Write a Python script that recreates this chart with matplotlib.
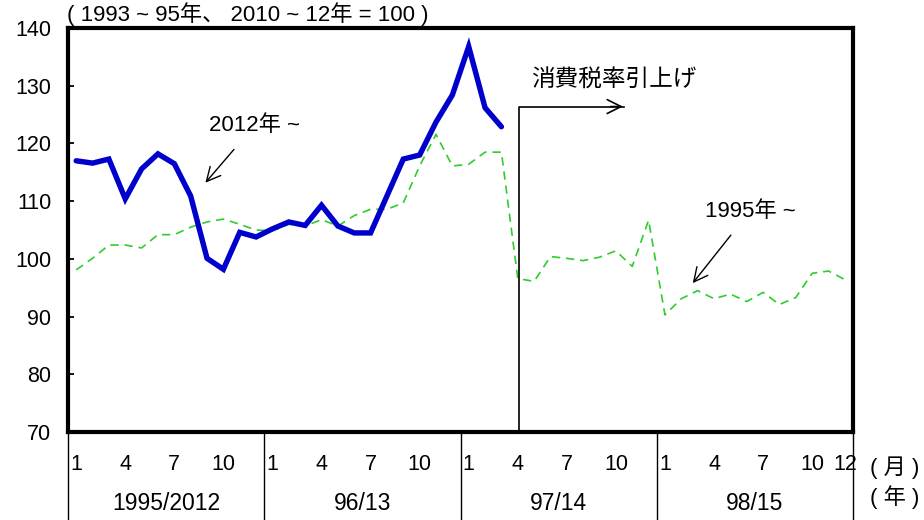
import matplotlib
matplotlib.use("Agg")
import matplotlib.pyplot as plt
import numpy as np

plt.rcParams['font.family'] = ['Liberation Sans', 'Noto Sans CJK JP', 'DejaVu Sans']

# monthly index, Jan 1995/2012 .. Dec 1998/2015
months = np.arange(1, 49)

# 2012~ series (Jan 2012 - Mar 2014)
series_2012 = [117.0, 116.6, 117.3, 110.4, 115.6, 118.2, 116.5, 110.9, 100.1, 98.2,
               104.6, 103.8, 105.2, 106.4, 105.8, 109.3, 105.7, 104.5, 104.5, 110.9,
               117.3, 118.0, 123.7, 128.4, 136.8, 126.2, 122.9]

# 1995~ series (Jan 1995 - Dec 1998)
series_1995 = [98.1, 100.1, 102.4, 102.4, 101.9, 104.2, 104.2, 105.5, 106.4, 106.9,
               106.0, 105.0, 104.9, 106.0, 105.7, 106.8, 105.7, 107.5, 108.6, 108.6,
               109.7, 116.1, 121.6, 116.1, 116.4, 118.5, 118.5, 96.6, 96.1, 100.4,
               100.1, 99.7, 100.3, 101.4, 98.7, 106.7, 90.3, 93.1, 94.5, 93.1,
               93.9, 92.6, 94.2, 92.1, 93.3, 97.5, 97.9, 96.4]

month_labels = ['1', '4', '7', '10']
year_labels = ['1995/2012', '96/13', '97/14', '98/15']
y_ticks = [70, 80, 90, 100, 110, 120, 130, 140]

fig = plt.figure(figsize=(9.24, 5.2), dpi=100)
ax = fig.add_axes([0.0736, 0.1692, 0.8496, 0.7768])

x = months - 0.5
ax.plot(x, series_1995, color='#2ECC2E', lw=1.2, dashes=(5, 3.5))
ax.plot(x[:len(series_2012)], series_2012, color='#0000CC', lw=3.9,
        solid_joinstyle='miter', solid_capstyle='round')

ax.set_xlim(0, 48)
ax.set_ylim(70, 140)
ax.set_yticks(y_ticks)
ax.tick_params(axis='y', direction='in', length=4, width=1.3, labelsize=15.5, pad=12)

# month ticks under each year block
tick_pos, tick_lab = [], []
for yr in range(4):
    for lab in month_labels:
        tick_pos.append(yr * 12 + int(lab) - 0.5)
        tick_lab.append(lab)
tick_pos.append(47.5)
tick_lab.append('12')
ax.set_xticks(tick_pos, tick_lab)
ax.tick_params(axis='x', length=0, labelsize=15.5, pad=16)
for lbl in ax.get_xticklabels():
    if lbl.get_text() == '10' and lbl.get_position()[0] > 40:
        lbl.set_x(lbl.get_position()[0] - 0.3)

for sp in ax.spines.values():
    sp.set_linewidth(3)
    sp.set_color('black')

trans = ax.get_xaxis_transform()
for b in range(5):
    ax.plot([b * 12, b * 12], [0, -0.22], transform=trans, color='black',
            lw=1, clip_on=False)
for i, lab in enumerate(year_labels):
    ax.text(i * 12 + 6, -0.176, lab, transform=trans, ha='center', va='center',
            fontsize=16.5)

fig.text(0.968, 0.100, '( 月 )', ha='center', va='center', fontsize=16)
fig.text(0.968, 0.044, '( 年 )', ha='center', va='center', fontsize=16)

fig.text(0.073, 0.972, '( 1993 ~ 95年、 2010 ~ 12年 = 100 )', ha='left',
         va='center', fontsize=16)

# consumption tax hike marker (April 1997/2014)
ax.plot([27.55, 27.55, 34.0], [70, 126.4, 126.4], color='black', lw=1.2)
ax.annotate('', xy=(34.1, 126.4), xytext=(33.0, 126.4),
            arrowprops=dict(arrowstyle='->', color='black', lw=1.2,
                            mutation_scale=25))
ax.text(28.3, 130.8, '消費税率引上げ', ha='left', va='center', fontsize=17)

ax.annotate('2012年 ~', xy=(8.4, 113.2), xytext=(11.4, 123.1),
            ha='center', va='center', fontsize=16,
            arrowprops=dict(arrowstyle='->', color='black', lw=1,
                            mutation_scale=25, shrinkA=10, shrinkB=0))
ax.annotate('1995年 ~', xy=(38.2, 95.8), xytext=(41.7, 108.3),
            ha='center', va='center', fontsize=16,
            arrowprops=dict(arrowstyle='->', color='black', lw=1,
                            mutation_scale=25, shrinkA=10, shrinkB=0))

fig.savefig('out.png', dpi=100)
